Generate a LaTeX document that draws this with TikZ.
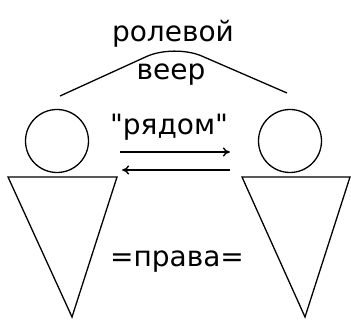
\documentclass[tikz,border=0pt]{standalone}
\usepackage{fontspec}
\setmainfont{DejaVu Sans}
\usetikzlibrary{arrows.meta}

\tikzset{
  word/.style={anchor=base, inner sep=0pt, font=\fontsize{28}{30}\selectfont},
  head/.style={draw, circle, minimum size=63pt, inner sep=0pt, line width=1.3pt},
  body/.style={line width=1.3pt, line join=miter},
  link/.style={line width=1.4pt, -{To[length=7pt,width=9pt]}}
}

\begin{document}
\begin{tikzpicture}[x=1pt, y=1pt]
\useasboundingbox (0,0) rectangle (351,324);

\node[word] (fan)   at (173, 282) {ролевой};
\node[word] (veer)  at (171, 244) {веер};
\node[word] (near)  at (169, 189) {\textquotedbl рядом\textquotedbl};
\node[word] (right) at (177, 57)  {=права=};

\node[head] (lhead) at (57, 183) {};
\node[head] (rhead) at (290, 183) {};

% bodies
\draw[body] (8, 147) -- (117, 147) -- (72, 7) -- cycle;
\draw[body] (242, 147) -- (350, 147) -- (305, 7) -- cycle;

% fan over the two
\coordinate (fl) at (60, 228);
\coordinate (fr) at (287, 231);
\draw[line width=1.3pt, rounded corners=30pt] (fl) -- (174, 280) -- (fr);

\draw[link, shorten <=31pt, shorten >=28pt] ([yshift=-11pt]lhead.east) -- ([yshift=-11pt]rhead.west);
\draw[link, shorten <=28pt, shorten >=33pt] ([yshift=-29pt]rhead.west) -- ([yshift=-29pt]lhead.east);
\end{tikzpicture}
\end{document}
